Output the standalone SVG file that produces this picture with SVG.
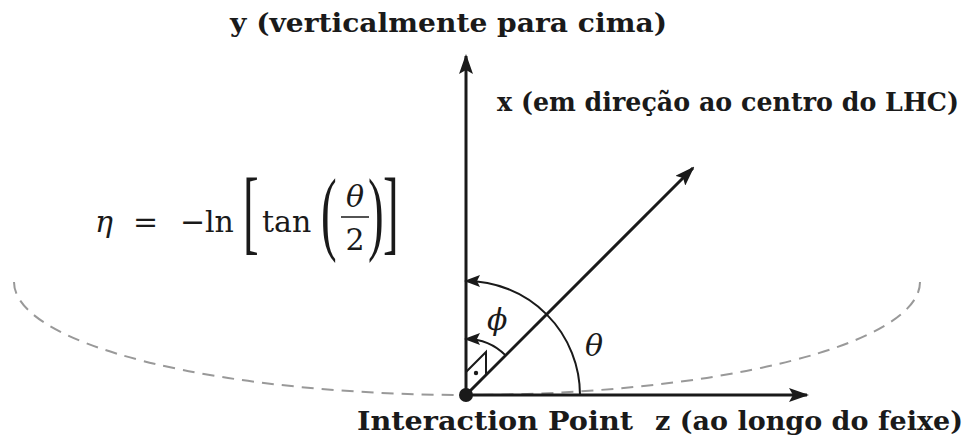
<svg xmlns="http://www.w3.org/2000/svg" width="975" height="438" viewBox="0 0 975 438">
<style>
.axis{stroke:#1a1a1a;stroke-width:3;fill:none}
.arc{stroke:#1a1a1a;stroke-width:2;fill:none}
.lbl{font-family:"DejaVu Serif","Liberation Serif",serif;font-weight:bold;font-size:26px;fill:#1a1a1a}
.m{font-family:"DejaVu Serif","Liberation Serif",serif;font-size:30px;fill:#1a1a1a}
.mi{font-family:"DejaVu Serif","Liberation Serif",serif;font-style:italic;font-size:30px;fill:#1a1a1a}
.br{font-family:"Liberation Serif",serif;font-size:94px;fill:#1a1a1a}
</style>
<defs>
<marker id="ah" markerUnits="userSpaceOnUse" markerWidth="20" markerHeight="14" refX="18" refY="7" orient="auto">
<path d="M0,0 L20,7 L0,14 L4,7 Z" fill="#1a1a1a"/>
</marker>
<marker id="sh" markerUnits="userSpaceOnUse" markerWidth="16" markerHeight="12" refX="14" refY="6" orient="auto">
<path d="M0,0 L16,6 L0,12 L3,6 Z" fill="#1a1a1a"/>
</marker>
</defs>
<path d="M14,282 A453,113 0 0 0 920,282" fill="none" stroke="#999" stroke-width="2" stroke-dasharray="12 8"/>
<g id="connectors">
<line class="axis" x1="466" y1="395" x2="466" y2="56" marker-end="url(#ah)"/>
<line class="axis" x1="466" y1="395" x2="807" y2="395" marker-end="url(#ah)"/>
<line class="axis" x1="466" y1="395" x2="693" y2="168" marker-end="url(#ah)"/>
<path class="arc" d="M580,395 A114,114 0 0 0 466,281" marker-end="url(#sh)"/>
<path class="arc" d="M505.6,355.4 A56,56 0 0 0 466,339" marker-end="url(#sh)"/>
<polyline class="arc" points="466,372 486,352 486,375"/>
<circle cx="476" cy="373" r="2.2" fill="#1a1a1a"/>
</g>
<g id="origin"><circle cx="466" cy="395" r="7" fill="#1a1a1a"/></g>
<g id="label-y"><text class="lbl" x="230" y="32" textLength="437" lengthAdjust="spacingAndGlyphs">y (verticalmente para cima)</text></g>
<g id="label-x"><text class="lbl" x="497" y="111" textLength="462" lengthAdjust="spacingAndGlyphs">x (em direção ao centro do LHC)</text></g>
<g id="label-ip"><text class="lbl" x="357" y="430" textLength="276" lengthAdjust="spacingAndGlyphs">Interaction Point</text></g>
<g id="label-z"><text class="lbl" x="655" y="430" textLength="308" lengthAdjust="spacingAndGlyphs">z (ao longo do feixe)</text></g>
<g id="theta"><text class="mi" x="585" y="356">θ</text></g>
<g id="phi"><text class="mi" x="487" y="330">ϕ</text></g>
<g id="formula">
<text class="mi" x="95" y="232">η</text>
<text class="m" x="133" y="232">=</text>
<text class="m" x="180" y="232">−</text>
<text class="m" x="205" y="232">ln</text>
<text class="br" transform="translate(243,243) scale(0.5,1)">[</text>
<text class="m" x="262" y="232">tan</text>
<text class="br" transform="translate(321,243) scale(0.5,1)">(</text>
<text class="mi" x="355" y="207" text-anchor="middle">θ</text>
<line x1="341" y1="217" x2="369" y2="217" stroke="#1a1a1a" stroke-width="1.5"/>
<text class="m" x="355" y="250" text-anchor="middle">2</text>
<text class="br" transform="translate(368,243) scale(0.5,1)">)</text>
<text class="br" transform="translate(383,243) scale(0.5,1)">]</text>
</g>
</svg>
